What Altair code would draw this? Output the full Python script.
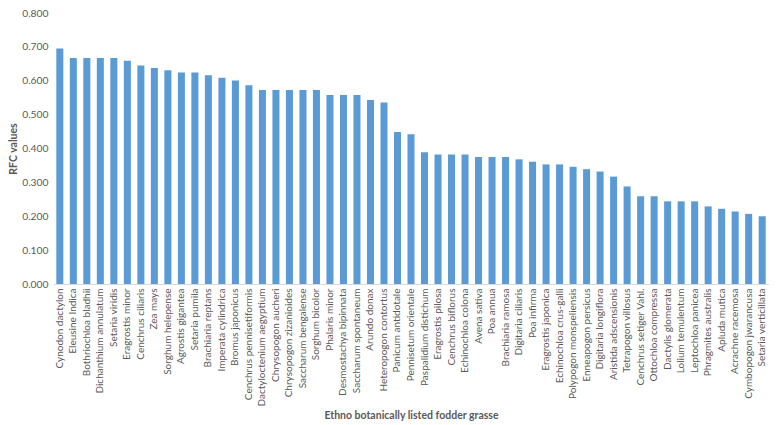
import altair as alt
import pandas as pd

species = [
    "Cynodon dactylon", "Eleusine Indica", "Bothriochloa bladhii", "Dichanthium annulatum",
    "Setaria viridis", "Eragrostis minor", "Cenchrus ciliaris", "Zea mays",
    "Sorghum helepense", "Agrostis gigantea", "Setaria pumila", "Brachiaria reptans",
    "Imperata cylindrica", "Bromus japonicus", "Cenchrus pennisetiformis",
    "Dactyloctenium aegyptium", "Chrysopogon aucheri", "Chrysopogon zizanioides",
    "Saccharum bengalense", "Sorghum bicolor", "Phalaris minor", "Desmostachya bipinnata",
    "Saccharum spontaneum", "Arundo donax", "Heteropogon contortus", "Panicum antidotale",
    "Pennisetum orientale", "Paspalidium distichum", "Eragrostis pilosa", "Cenchrus biflorus",
    "Echinochloa colona", "Avena sativa", "Poa annua", "Brachiaria ramosa",
    "Digitaria ciliaris", "Poa infirma", "Eragrostis japonica", "Echinochloa crus-galli",
    "Polypogon monspeliensis", "Enneapogon persicus", "Digitaria longiflora",
    "Aristida adscensionis", "Tetrapogon villosus", "Cenchrus setiger Vahl.",
    "Ottochloa compressa", "Dactylis glomerata", "Lolium temulentum", "Leptochloa panicea",
    "Phragmites australis", "Apluda mutica", "Acrachne racemosa", "Cymbopogon jwarancusa",
    "Setaria verticillata",
]
rfc = [
    0.695, 0.667, 0.667, 0.667, 0.667, 0.659, 0.645, 0.638, 0.631, 0.624, 0.624, 0.616,
    0.609, 0.601, 0.587, 0.573, 0.573, 0.573, 0.573, 0.573, 0.558, 0.558, 0.558, 0.543,
    0.536, 0.449, 0.442, 0.389, 0.382, 0.382, 0.382, 0.375, 0.375, 0.375, 0.368, 0.361,
    0.353, 0.353, 0.346, 0.339, 0.332, 0.317, 0.288, 0.259, 0.259, 0.244, 0.244, 0.244,
    0.229, 0.222, 0.214, 0.207, 0.200,
]
y_ticks = [0.0, 0.1, 0.2, 0.3, 0.4, 0.5, 0.6, 0.7, 0.8]

df = pd.DataFrame({"species": species, "rfc": rfc})

FONT = "Lato"
GRAY = "#595959"

chart = alt.Chart(df).mark_bar(color="#5B9BD5").encode(
    x=alt.X(
        "species:N",
        sort=species,
        scale=alt.Scale(paddingInner=0.48, paddingOuter=0.245),
        axis=alt.Axis(
            title="Ethno botanically listed fodder grasse",
            labelAngle=-90,
            labelFontSize=10,
            labelColor=GRAY,
            labelFont=FONT,
            labelPadding=4,
            ticks=False,
            domainColor="#D9D9D9",
            titleFont=FONT,
            titleFontSize=10.5,
            titleFontWeight="bold",
            titleColor=GRAY,
            titlePadding=4,
        ),
    ),
    y=alt.Y(
        "rfc:Q",
        scale=alt.Scale(domain=[0, 0.8], nice=False),
        axis=alt.Axis(
            title="RFC values",
            values=y_ticks,
            format=".3f",
            grid=False,
            domain=False,
            ticks=False,
            labelFontSize=10.3,
            labelColor=GRAY,
            labelFont=FONT,
            labelPadding=5,
            titleFont=FONT,
            titleFontSize=10.5,
            titleFontWeight="bold",
            titleColor=GRAY,
            titlePadding=3,
        ),
    ),
).properties(
    width=716, height=271,
    padding={"left": 0, "top": 0, "right": 0, "bottom": 0},
).configure_view(stroke=None)

chart.save("out.html", embed_options={"renderer": "svg", "actions": False})
